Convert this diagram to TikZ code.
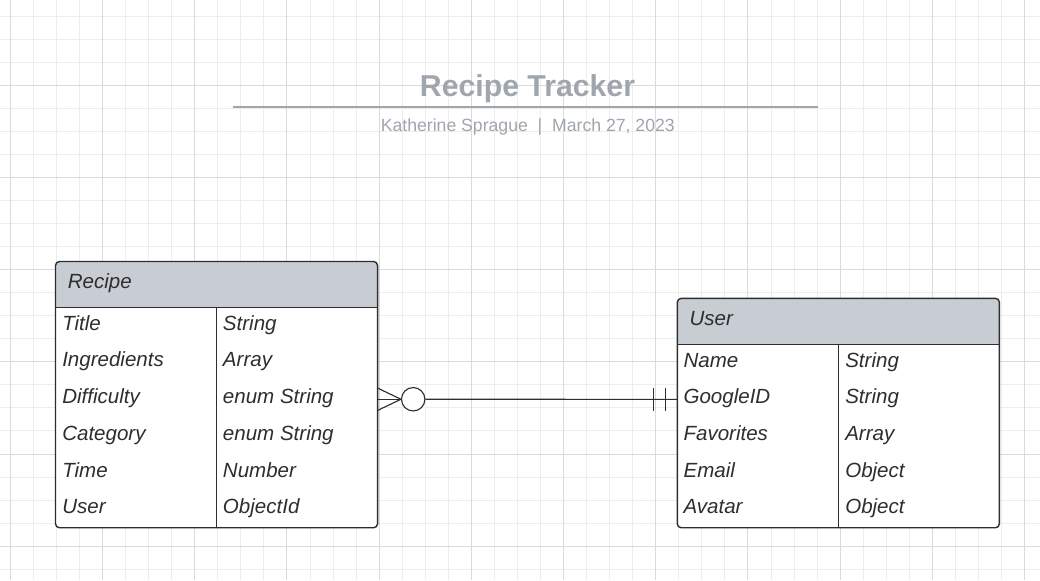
\documentclass[tikz,border=0pt]{standalone}
\usepackage{fontspec}
\setmainfont{Liberation Sans}
\usetikzlibrary{calc}
\definecolor{gridminor}{HTML}{EDEDED}
\definecolor{gridmajor}{HTML}{DADADA}
\definecolor{headfill}{HTML}{C8CDD4}
\definecolor{titlegray}{HTML}{A0A6AE}
\definecolor{ink}{HTML}{2E2E2E}
\tikzset{
  entity/.style={fill=white, inner sep=0pt, outer sep=0pt, anchor=north west,
    minimum width=8.05cm},
  field/.style={anchor=base west, inner sep=0pt, text=ink,
    font=\fontsize{14.6}{17}\selectfont\itshape},
  rel/.style={ink, line width=0.8pt},
}
\begin{document}
\begin{tikzpicture}[x=0.025cm, y=-0.025cm]
  \useasboundingbox (0,0) rectangle (1040,580);
  \fill[white] (0,0) rectangle (1040,580);
  % grid paper
  \foreach \k in {0,...,44}
    \draw[gridminor, line width=0.6pt] ({10.3+23.05*\k},0) -- ({10.3+23.05*\k},580);
  \foreach \k in {0,...,24}
    \draw[gridminor, line width=0.6pt] (0,{16+23.05*\k}) -- (1040,{16+23.05*\k});
  \foreach \k in {0,...,11}
    \draw[gridmajor, line width=0.6pt] ({10.3+92.2*\k},0) -- ({10.3+92.2*\k},580);
  \foreach \k in {0,...,5}
    \draw[gridmajor, line width=0.6pt] (0,{85.3+92.2*\k}) -- (1040,{85.3+92.2*\k});

  % title
  \node[anchor=base, inner sep=0pt, text=titlegray, font=\fontsize{21.5}{25}\selectfont\bfseries]
    (title) at (527.5,96) {Recipe Tracker};
  \draw[titlegray, line width=1.2pt] (233,107) -- (818,107);
  \node[anchor=base, inner sep=0pt, text=titlegray, font=\fontsize{12.55}{15}\selectfont]
    (byline) at (527.8,131) {Katherine Sprague~~|~~March 27, 2023};

  % Recipe
  \node[entity, minimum height=6.655cm] (recipe) at (55.5,261.5) {};
  \begin{scope}
    \clip (recipe.north west) rectangle ($(recipe.north east)+(0,46)$);
    \fill[headfill, rounded corners=1mm] (recipe.north west) rectangle (recipe.south east);
  \end{scope}
  \draw[ink, line width=1pt] ($(recipe.north west)+(0,46)$) -- ($(recipe.north east)+(0,46)$);
  \draw[ink, line width=1pt] ($(recipe.north west)+(161.2,46)$) -- ($(recipe.south west)+(161.2,0)$);
  \draw[ink, line width=1pt, rounded corners=1mm] (recipe.north west) rectangle (recipe.south east);
  \node[field] (recipe-name) at ($(recipe.north west)+(12,26.8)$) {Recipe};
  \foreach \fname/\ftype [count=\i] in {Title/String, Ingredients/Array,
      Difficulty/enum String, Category/enum String, Time/Number, User/ObjectId}
  {
    \node[field] (recipe-f\i) at ($(recipe.north west)+(6.5,{32+36.7*\i})$) {\fname};
    \node[field] (recipe-t\i) at ($(recipe.north west)+(167.2,{32+36.7*\i})$) {\ftype};
  }

  % User
  \node[entity, minimum height=5.735cm] (user) at (677.3,298.3) {};
  \begin{scope}
    \clip (user.north west) rectangle ($(user.north east)+(0,46)$);
    \fill[headfill, rounded corners=1mm] (user.north west) rectangle (user.south east);
  \end{scope}
  \draw[ink, line width=1pt] ($(user.north west)+(0,46)$) -- ($(user.north east)+(0,46)$);
  \draw[ink, line width=1pt] ($(user.north west)+(161,46)$) -- ($(user.south west)+(161,0)$);
  \draw[ink, line width=1pt, rounded corners=1mm] (user.north west) rectangle (user.south east);
  \node[field] (user-name) at ($(user.north west)+(12,26.8)$) {User};
  \foreach \fname/\ftype [count=\i] in {Name/String, GoogleID/String,
      Favorites/Array, Email/Object, Avatar/Object}
  {
    \node[field] (user-f\i) at ($(user.north west)+(6,{32+36.7*\i})$) {\fname};
    \node[field] (user-t\i) at ($(user.north west)+(167.7,{32+36.7*\i})$) {\ftype};
  }

  % zero or many -- one and only one
  \coordinate (recipe-r3) at ($(recipe.north east)+(0,{46+36.7*2.5})$);
  \coordinate (user-r2) at ($(user.north west)+(0,{46+36.7*1.5})$);
  \node[circle, draw=ink, line width=0.8pt, fill=white, minimum size=0.585cm, inner sep=0pt]
    (zero) at ($(recipe-r3)+(35.6,0)$) {};
  \draw[rel] (recipe-r3) -- (zero.west);
  \draw[rel] ($(recipe-r3)+(0,-11.2)$) -- (zero.west) -- ($(recipe-r3)+(0,11.2)$);
  \draw[rel] (zero.east) -- (user-r2);
  \draw[rel] ($(user-r2)+(-23.6,-11.2)$) -- ++(0,22.4);
  \draw[rel] ($(user-r2)+(-12,-11.2)$) -- ++(0,22.4);
\end{tikzpicture}
\end{document}
